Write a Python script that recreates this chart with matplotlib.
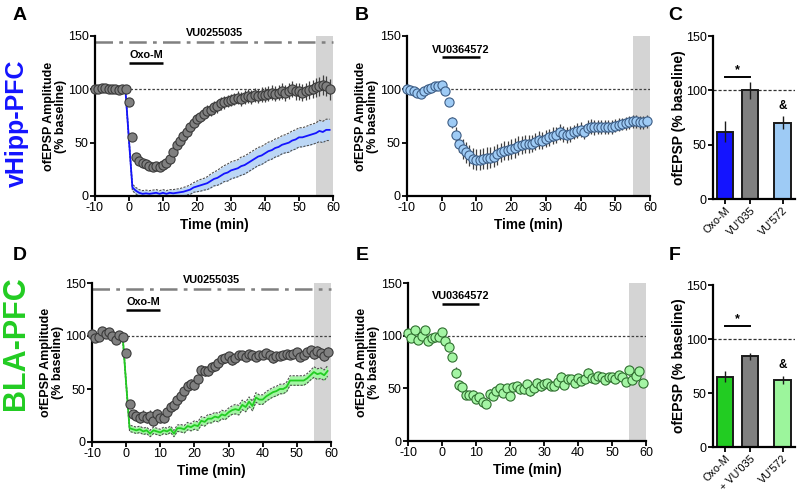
import numpy as np
import matplotlib
matplotlib.use('Agg')
from matplotlib import pyplot as plt

plt.rcParams['font.family'] = ['Liberation Sans', 'DejaVu Sans']
plt.rcParams['axes.unicode_minus'] = False

# ---- data ----
t_circ = np.arange(-10, 60)
t_line = np.arange(-1, 60)

# A: Oxo-M + VU0255035 (gray circles) and Oxo-M alone (blue mean +/- sem)
a_gray = [100, 100, 101, 101, 100, 100, 100, 99, 100, 100,
          88, 55, 37, 33, 31, 30, 28, 27.5, 28, 27.5,
          29, 31, 35, 41, 48, 52, 56, 60, 65, 68,
          72, 74, 77, 80, 80.5, 83, 84, 87, 88, 89,
          90, 91, 92, 91, 93, 94, 93, 95, 94, 95,
          95, 96, 97, 96, 97, 98, 97, 98, 100, 98,
          98, 97, 98, 99, 100, 102, 103, 104, 103, 100]
a_gray_err = [1.5, 1.5, 1.5, 1.5, 1.5, 1.5, 1.5, 1.5, 1.5, 1.5,
              3, 3, 3, 2.5, 2.5, 2.5, 2.5, 2.5, 2.5, 2.5,
              3, 3, 3, 3.5, 3.5, 4, 4, 4.5, 4.5, 5,
              5, 5, 5.5, 5.5, 5.5, 6, 6, 6, 6, 6,
              6, 6, 6, 6.5, 6.5, 6.5, 6.5, 6.5, 6.5, 7,
              7, 7, 7, 7, 7, 7.5, 7.5, 7.5, 7.5, 8,
              8, 8, 8, 8.5, 8.5, 9, 9, 9.5, 9.5, 10]
a_blue = [97, 52, 8, 5, 3, 2, 2.5, 2, 2.5, 3, 2,
          3, 2, 3, 2.5, 3, 3.5, 4, 5, 6, 8,
          9, 10, 11, 12, 14, 16, 17, 19, 21, 22,
          24, 25, 26, 28, 29, 31, 33, 35, 37, 38,
          40, 42, 43, 45, 46, 48, 49, 50, 52, 53,
          55, 55, 56, 57, 58, 59, 61, 60, 62, 62]
a_blue_sem = [3, 3, 3, 3, 3, 3, 3, 3, 3, 3, 3,
              3, 3, 3, 3.5, 3.5, 3.5, 4, 4, 4.5, 4.5,
              5, 5.5, 5.5, 6, 6.5, 6.5, 7, 7.5, 7.5, 8,
              8, 8, 8, 8.5, 8.5, 8.5, 8.5, 8.5, 8.5, 8.5,
              8.5, 8.5, 8.5, 8.5, 8.5, 8.5, 8.5, 9, 9, 9,
              9, 9, 9, 9.5, 9.5, 9.5, 10, 10, 10, 10]

# B: VU0364572 (light blue circles)
b_vals = [100, 99, 98, 96.5, 96, 98, 100, 101.5, 103, 103,
          104, 98, 88, 69, 57.5, 49, 44, 41, 38, 35,
          34, 34, 35, 35.5, 36, 37, 39, 41, 42.5, 43,
          44, 45, 47, 48, 49, 49, 49, 51, 52.5, 52,
          53.5, 55, 56.5, 57.5, 60, 58, 57.5, 58, 60, 61,
          62, 60, 64, 65, 64.5, 64.5, 64.5, 65, 65, 65,
          66, 67, 67.5, 68, 69, 70, 70, 69, 69, 70]
b_err = [2, 2, 2, 2, 2, 2, 2, 2, 2, 2,
         2, 3, 4, 5, 7, 8, 9, 10, 10, 10,
         10, 10, 10, 10, 10, 9.5, 9.5, 9, 9, 9,
         9, 9, 9, 8.5, 8.5, 8.5, 8, 8, 8, 8,
         8, 8, 8, 7.5, 7.5, 7.5, 7.5, 7.5, 7, 7,
         7, 7, 7, 7, 7, 6.5, 6.5, 6.5, 6.5, 6.5,
         6, 6, 6, 6, 6, 6, 6, 6, 6, 6]

# C: summary bars
c_labels = ["Oxo-M", "VU'035", "VU'572"]
c_vals = [62, 100, 70]
c_err = [10, 8, 6]

# D: Oxo-M + VU0255035 (gray circles) and Oxo-M alone (green mean +/- sem)
d_gray = [102, 98, 99, 105, 102, 104, 100, 96.5, 100.5, 99,
          84, 36, 26, 25, 23, 25, 23, 25, 20, 26,
          23, 23, 28, 33, 35, 40, 43, 48, 53, 55,
          54, 59, 68, 67, 67, 71, 72, 74.5, 78, 79,
          81, 77, 79, 82, 82, 80, 83, 82, 80, 82,
          82, 84, 82, 79, 81, 81, 82, 83, 82, 83,
          85, 80, 82, 85, 87, 83, 86, 84, 81, 85]
d_gray_err = [3, 3, 3, 3, 3, 3, 3, 3, 3, 3,
              3, 4, 4, 5, 5, 5, 5, 5, 5, 5,
              5, 5, 5, 5, 5, 4.5, 4.5, 4.5, 4.5, 4.5,
              4.5, 4.5, 5, 5, 5, 4, 4, 4, 4, 4,
              4, 4, 4, 4, 4, 4, 4, 4, 4, 4,
              4, 4, 4, 4, 4, 4, 4, 4, 4, 4,
              4, 4, 4, 4, 4, 4.5, 4.5, 4.5, 4.5, 4.5]
d_green = [99, 55, 13, 12, 11, 12, 10, 11, 8, 11, 10,
           9, 11, 10, 12, 8, 13, 13, 12, 15, 14,
           16, 15, 20, 19, 22, 22, 24, 23, 26, 25,
           28, 30, 31, 30, 35, 33, 38, 34, 42, 40,
           40, 43, 45, 47, 48, 50, 50, 52, 58, 58,
           58, 58, 58, 60, 63, 66, 64, 65, 63, 67]
d_green_sem = [3, 3, 3, 3, 3, 3, 3, 3, 3, 3, 3,
               3, 3, 3, 3, 3, 3, 3.5, 3.5, 3.5, 3.5,
               4, 4, 4, 4, 4, 4, 4, 4, 4, 4,
               4, 4, 4.5, 4.5, 4.5, 4.5, 4.5, 4.5, 4.5, 4.5,
               4.5, 4.5, 4.5, 4.5, 4.5, 4.5, 4.5, 4.5, 4.5, 4.5,
               4.5, 4.5, 4.5, 4.5, 4.5, 5, 5, 5, 5, 5]

# E: VU0364572 (light green circles)
e_vals = [103, 98, 105, 96, 100, 105, 95, 98, 98.5, 98.5,
          103.5, 95, 89, 80, 65, 53, 51, 44, 43.5, 44,
          40, 41.5, 37, 35, 45, 42.5, 47, 50, 46, 50.5,
          42.5, 51, 52, 49, 49, 54, 47, 50.5, 55, 52,
          54, 55, 52, 52, 56, 60.5, 53, 59, 59, 55,
          60, 57, 59, 65, 60, 59, 61.5, 60.5, 58, 60.5,
          60.5, 59, 62.5, 60.5, 56, 67, 58, 61.5, 66, 55]
e_err = [2, 2, 2, 2, 2, 2, 2, 2, 2, 2,
         2, 2, 3, 4, 5, 5, 4, 4, 4, 4,
         4, 4, 4, 4, 4, 4, 4, 4, 4, 4,
         4, 4, 4, 4, 4, 4, 4, 4, 5, 5,
         4, 4, 4, 4, 5, 5, 4, 4, 4, 4,
         4, 4, 4, 4, 4, 4, 4, 4, 4, 4,
         4, 4, 4, 4, 4, 4, 4, 4, 4, 4]

# F: summary bars
f_labels = ["Oxo-M", "+ VU'035", "VU'572"]
f_vals = [65, 84, 62]
f_err = [5, 3, 4]

# ---- styling ----
GRAY = '#808080'
BLUE = '#1414ff'
LBLUE = '#9ecbf5'
GREEN = '#22cc22'
LGREEN = '#a4f5a4'

fig = plt.figure(figsize=(8, 4.92), dpi=100)

def px_axes(left, top, right, bottom):
    W, H = 800.0, 492.0
    return fig.add_axes([left / W, 1 - bottom / H, (right - left) / W, (bottom - top) / H])

def style_axes(ax):
    for s in ['top', 'right']:
        ax.spines[s].set_visible(False)
    for s in ['left', 'bottom']:
        ax.spines[s].set_linewidth(1.6)
    ax.tick_params(width=1.3, length=3.5, labelsize=9, pad=1)

def time_axes(ax, width_px):
    style_axes(ax)
    ax.set_xlim(-10, 60)
    ax.set_ylim(0, 150)
    ax.set_xticks(range(-10, 61, 10))
    ax.set_yticks([0, 50, 100, 150])
    ax.axvspan(55, 60, color='#d4d4d4', lw=0, zorder=0)
    ax.axhline(100, color='#404040', ls=(0, (2, 1.5)), lw=0.9, zorder=1)
    ax.set_xlabel('Time (min)', fontsize=9.8, fontweight='bold', labelpad=3)
    ax.set_ylabel('ofEPSP Amplitude\n(% baseline)', fontsize=9, fontweight='bold',
                  linespacing=1.05)
    ax.yaxis.set_label_coords(-28.0 / width_px, 0.5)

def circles(ax, y, err, fc, ec):
    ax.errorbar(t_circ, y, yerr=err, fmt='none', ecolor='#404040', elinewidth=0.9,
                capsize=0, zorder=3, clip_on=False)
    ax.plot(t_circ, y, 'o', ms=6.6, mfc=fc, mec=ec, mew=0.8, zorder=4, clip_on=False)

def band(ax, y, sem, lc, fc):
    y = np.array(y)
    sem = np.array(sem)
    ax.fill_between(t_line, y - sem, y + sem, color=fc, lw=0, zorder=2)
    ax.plot(t_line, y + sem, color='#505050', ls=(0, (2, 1.2)), lw=0.8, zorder=2)
    ax.plot(t_line, y - sem, color='#505050', ls=(0, (2, 1.2)), lw=0.8, zorder=2)
    ax.plot(t_line, y, color=lc, lw=1.3, zorder=2)

def drug_bar(ax, x0, x1, y, text):
    ax.plot([x0, x1], [y, y], color='black', lw=1.8, clip_on=False, solid_capstyle='butt')
    ax.text((x0 + x1) / 2, y + 2.5, text, ha='center', va='bottom', fontsize=7.8,
            fontweight='bold')

def vu035_line(ax):
    ax.plot([-10, 60], [144, 144], color='#808080', lw=1.8, ls=(0, (7, 2.5, 1.5, 2.5)),
            zorder=1, clip_on=False)
    ax.text(25, 148, 'VU0255035', ha='center', va='bottom', fontsize=7.8, fontweight='bold')

def bar_axes(ax, labels, vals, err, colors):
    style_axes(ax)
    pos = [0, 1, 2.3]
    ax.bar(pos, vals, width=0.66, color=colors, edgecolor='#1a1a1a', lw=1.4, zorder=2)
    ax.errorbar(pos, vals, yerr=err, fmt='none', ecolor='#1a1a1a', elinewidth=1.0,
                capsize=0, zorder=3)
    ax.set_xlim(-0.48, 2.8)
    ax.set_ylim(0, 150)
    ax.set_yticks([0, 50, 100, 150])
    ax.set_xticks(pos)
    ax.set_xticklabels(labels, rotation=45, ha='right', rotation_mode='anchor', fontsize=7.8)
    ax.axhline(100, color='#303030', ls=(0, (2.5, 1.5)), lw=0.9, zorder=1)
    ax.set_ylabel('ofEPSP (% baseline)', fontsize=10, fontweight='bold')
    ax.yaxis.set_label_coords(-27.0 / 82.0, 0.5)
    ax.plot([0, 1], [112, 112], color='black', lw=1.4)
    ax.text(0.5, 113, '*', ha='center', va='bottom', fontsize=9, fontweight='bold')
    return pos

# ---- A ----
axA = px_axes(95, 36, 333, 196)
time_axes(axA, 238)
band(axA, a_blue, a_blue_sem, BLUE, '#bcd7f5')
circles(axA, a_gray, a_gray_err, GRAY, '#3a3a3a')
drug_bar(axA, 0, 10, 125, 'Oxo-M')
vu035_line(axA)

# ---- B ----
axB = px_axes(407, 36, 650, 196)
time_axes(axB, 243)
circles(axB, b_vals, b_err, LBLUE, '#3d5d85')
drug_bar(axB, 0, 11, 130, 'VU0364572')

# ---- C ----
axC = px_axes(713, 36, 795, 199)
posC = bar_axes(axC, c_labels, c_vals, c_err, [BLUE, GRAY, LBLUE])
axC.text(posC[2], c_vals[2] + c_err[2] + 4, '&', ha='center', va='bottom',
         fontsize=8.5, fontweight='bold')

# ---- D ----
axD = px_axes(92, 283, 331, 442)
time_axes(axD, 239)
band(axD, d_green, d_green_sem, GREEN, LGREEN)
circles(axD, d_gray, d_gray_err, GRAY, '#3a3a3a')
drug_bar(axD, 0, 10, 125, 'Oxo-M')
vu035_line(axD)

# ---- E ----
axE = px_axes(408, 283, 646, 441)
time_axes(axE, 238)
circles(axE, e_vals, e_err, LGREEN, '#2f6f2f')
drug_bar(axE, 0, 11, 130, 'VU0364572')

# ---- F ----
axF = px_axes(713, 285, 795, 447)
posF = bar_axes(axF, f_labels, f_vals, f_err, [GREEN, GRAY, '#9cf59c'])
axF.text(posF[2], f_vals[2] + f_err[2] + 4, '&', ha='center', va='bottom',
         fontsize=8.5, fontweight='bold')

# ---- panel letters and row labels ----
for letter, x, y in [('A', 20, 15), ('B', 362, 15), ('C', 675, 15),
                     ('D', 20, 256), ('E', 362, 256), ('F', 675, 256)]:
    fig.text(x / 800, 1 - y / 492, letter, fontsize=14, fontweight='bold',
             ha='center', va='center')

fig.text(17 / 800, 1 - 123 / 492, 'vHipp-PFC', color='#1414ff', fontsize=18,
         fontweight='bold', rotation=90, ha='center', va='center')
fig.text(16 / 800, 1 - 343 / 492, 'BLA-PFC', color='#22cc22', fontsize=22,
         fontweight='bold', rotation=90, ha='center', va='center')

fig.savefig('out.png', dpi=100)
